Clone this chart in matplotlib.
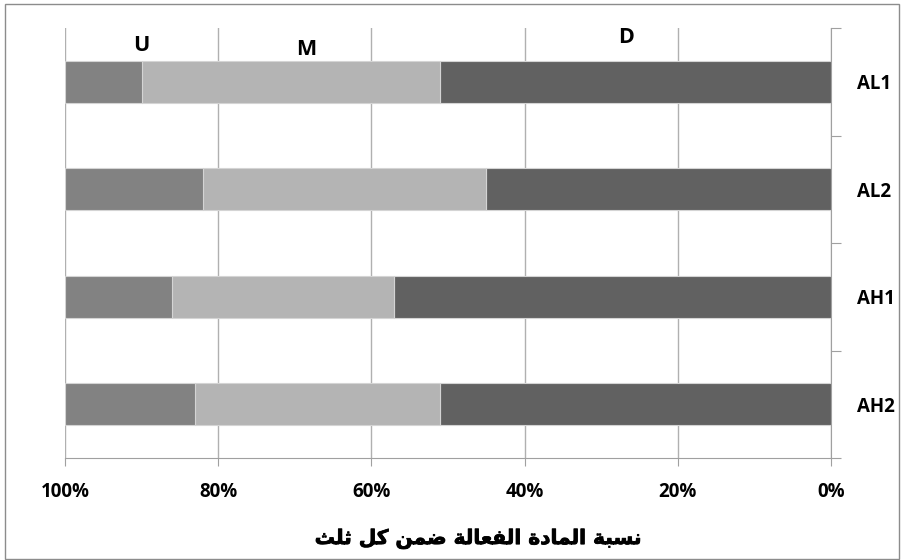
import matplotlib
matplotlib.use("Agg")
import matplotlib.pyplot as plt
import matplotlib.patheffects as pe
from matplotlib.patches import Rectangle
import numpy as np

categories = ["AL1", "AL2", "AH1", "AH2"]
share_d = [51, 45, 57, 51]
share_m = [39, 37, 29, 32]
share_u = [10, 18, 14, 17]
x_ticks = [100, 80, 60, 40, 20, 0]
x_label = "نسبة المادة الفعالة ضمن كل ثلث"

colors = {"D": "#616161", "M": "#b4b4b4", "U": "#828282"}


# tiny arabic shaper: matplotlib has no text shaping, so pick the
# presentation forms by hand and lay the letters out right-to-left
DUAL = {"ب": 0xFE8F, "ث": 0xFE99, "س": 0xFEB1, "ض": 0xFEBD, "ع": 0xFEC9,
        "ف": 0xFED1, "ك": 0xFED9, "ل": 0xFEDD, "م": 0xFEE1, "ن": 0xFEE5}
RIGHT = {"ا": 0xFE8D, "ة": 0xFE93, "د": 0xFEA9}


def shape(text):
    out = []
    for i, ch in enumerate(text):
        prev = text[i - 1] if i > 0 else " "
        nxt = text[i + 1] if i + 1 < len(text) else " "
        link_prev = prev in DUAL
        if ch in DUAL:
            link_next = nxt in DUAL or nxt in RIGHT
            base = DUAL[ch]
            if link_prev and link_next:
                out.append(chr(base + 3))
            elif link_prev:
                out.append(chr(base + 1))
            elif link_next:
                out.append(chr(base + 2))
            else:
                out.append(chr(base))
        elif ch in RIGHT:
            out.append(chr(RIGHT[ch] + (1 if link_prev else 0)))
        else:
            out.append(ch)
    return "".join(reversed(out))


plt.rcParams["font.family"] = ["Open Sans", "DejaVu Sans"]

fig = plt.figure(figsize=(9.04, 5.6), dpi=100)
ax = fig.add_axes([65 / 904, 102 / 560, 766 / 904, 430 / 560])

y = np.arange(len(categories))
d = np.array(share_d)
m = np.array(share_m)
u = np.array(share_u)
h = 0.39
edge = dict(edgecolor="#d4d4d4", linewidth=0.8, zorder=3)
ax.barh(y, d, height=h, color=colors["D"], **edge)
ax.barh(y, m, left=d, height=h, color=colors["M"], **edge)
ax.barh(y, u, left=d + m, height=h, color=colors["U"], **edge)

ax.set_xlim(100, 0)
ax.set_ylim(len(categories) - 0.5, -0.5)

ax.set_xticks(x_ticks)
ax.set_xticklabels([f"{t}%" for t in x_ticks], fontsize=13.5, fontweight="bold")
ax.tick_params(axis="x", length=6, color="#a0a0a0", pad=11)
ax.grid(axis="x", color="#b0b0b0", linewidth=1, zorder=0)
ax.set_axisbelow(True)

ax.yaxis.tick_right()
ax.set_yticks(np.arange(-0.5, len(categories), 1.0))
ax.set_yticklabels([])
ax.set_yticks(y, minor=True)
ax.set_yticklabels(categories, minor=True, fontsize=13.5, fontweight="bold")
ax.tick_params(axis="y", which="major", length=7, color="#a0a0a0")
ax.tick_params(axis="y", which="minor", length=0, pad=19)

for side in ["top", "left"]:
    ax.spines[side].set_visible(False)
for side in ["right", "bottom"]:
    ax.spines[side].set_color("#a0a0a0")

# segment names above the top bar
seg_labels = [("U", 90, 0.96), ("M", 68.5, 0.949), ("D", 26.8, 0.977)]
for name, xv, yf in seg_labels:
    ax.text(xv, yf, name, transform=ax.get_xaxis_transform(), ha="center",
            va="center", fontsize=15.5, fontweight="bold")

fig.text(479 / 904, 21 / 560, shape(x_label), ha="center", va="center",
         fontsize=14.5, fontweight="bold", family="DejaVu Sans",
         path_effects=[pe.withStroke(linewidth=0.6, foreground="black")])

fig.patches.append(Rectangle((5 / 904, 1.5 / 560), 894 / 904, 554.5 / 560,
                             transform=fig.transFigure, fill=False,
                             edgecolor="#8c8c8c", linewidth=1))

fig.savefig("out.png", dpi=100)
